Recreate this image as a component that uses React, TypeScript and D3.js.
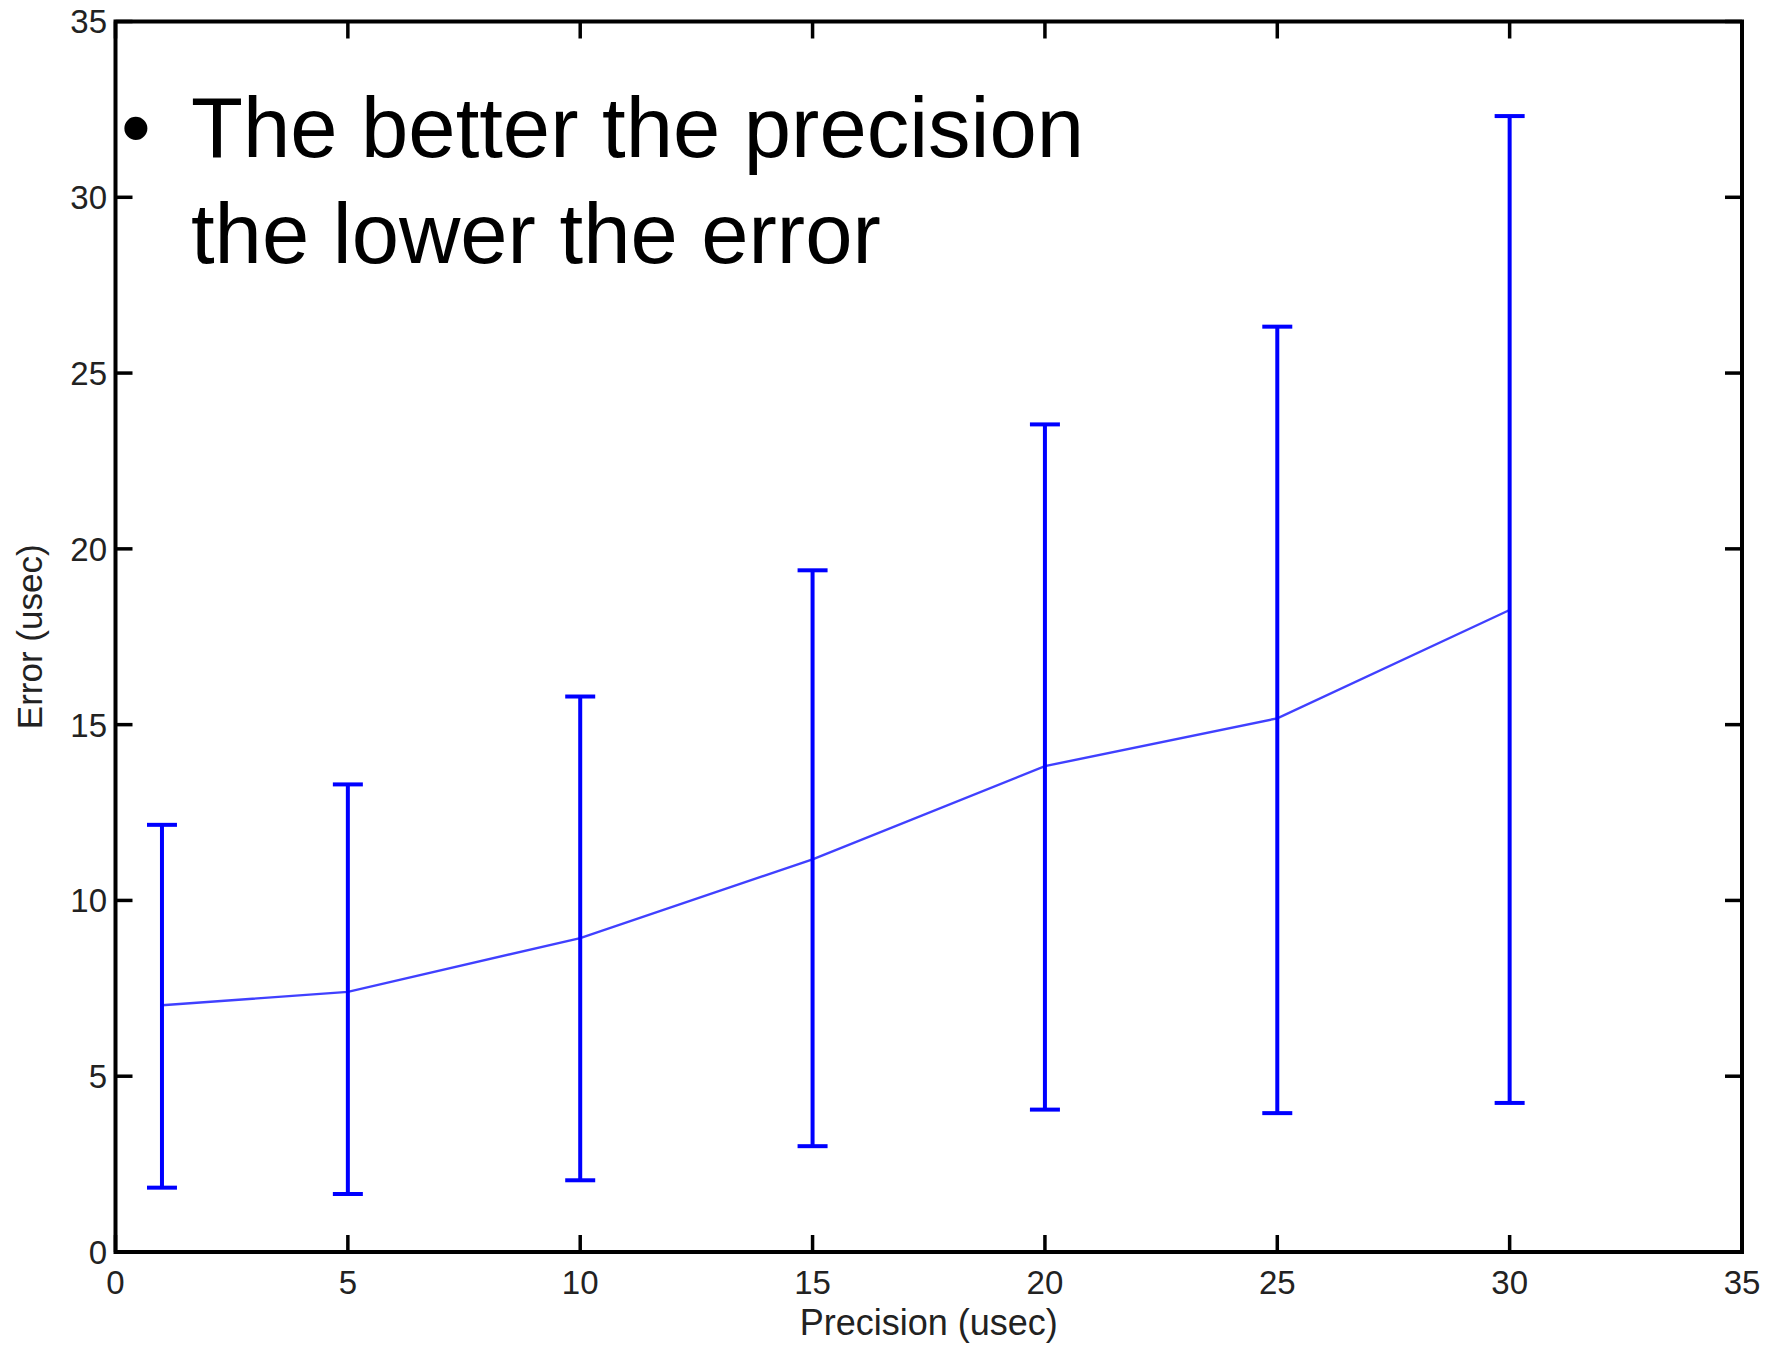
import React from 'react';
import * as d3 from 'd3';

// precision setting (usec) and measured error (usec)
const precision = [1, 5, 10, 15, 20, 25, 30];
const meanError = [7.02, 7.4, 8.93, 11.17, 13.82, 15.18, 18.26];
const lowError = [1.83, 1.65, 2.04, 3.01, 4.05, 3.95, 4.24];
const highError = [12.15, 13.3, 15.8, 19.39, 23.54, 26.32, 32.31];

const xTicks = [0, 5, 10, 15, 20, 25, 30, 35];
const yTicks = [0, 5, 10, 15, 20, 25, 30, 35];

const bulletLines = ['The better the precision', 'the lower the error'];

const W = 1784;
const H = 1345;
const left = 115.5;
const right = 1742;
const top = 21.5;
const bottom = 1252;

const App = () => {
  const x = d3.scaleLinear().domain([0, 35]).range([left, right]);
  const y = d3.scaleLinear().domain([0, 35]).range([bottom, top]);

  const pts: [number, number][] = precision.map((p, i) => [x(p), y(meanError[i])]);
  const line = d3.line().curve(d3.curveLinear)(pts) || '';

  const tickLen = 17;
  const capHalf = 15;
  const font = '"Liberation Sans", Arial, Helvetica, sans-serif';

  return (
    <svg width={W} height={H} style={{ position: 'absolute', left: 0, top: 0, background: '#fff' }}>
      {/* ticks on all four sides, pointing inward */}
      {xTicks.map(t => (
        <g key={'xt' + t}>
          <line x1={x(t)} x2={x(t)} y1={bottom} y2={bottom - tickLen} stroke="#000" strokeWidth={3.5} />
          <line x1={x(t)} x2={x(t)} y1={top} y2={top + tickLen} stroke="#000" strokeWidth={3.5} />
          <text x={x(t)} y={1294} textAnchor="middle" fontFamily={font} fontSize={33} fill="#222">{t}</text>
        </g>
      ))}
      {yTicks.map(t => (
        <g key={'yt' + t}>
          <line x1={left} x2={left + tickLen} y1={y(t)} y2={y(t)} stroke="#000" strokeWidth={3.5} />
          <line x1={right} x2={right - tickLen} y1={y(t)} y2={y(t)} stroke="#000" strokeWidth={3.5} />
          <text x={107} y={y(t)} dy="0.36em" textAnchor="end" fontFamily={font} fontSize={33} fill="#222">{t}</text>
        </g>
      ))}

      {/* frame */}
      <rect x={left} y={top} width={right - left} height={bottom - top} fill="none" stroke="#000" strokeWidth={4} />

      {/* mean line */}
      <path d={line} fill="none" stroke="#0000ff" strokeWidth={2.4} strokeOpacity={0.75} />

      {/* error bars */}
      {precision.map((p, i) => (
        <g key={'eb' + p} stroke="#0000ff" strokeWidth={4}>
          <line x1={x(p)} x2={x(p)} y1={y(lowError[i])} y2={y(highError[i])} />
          <line x1={x(p) - capHalf} x2={x(p) + capHalf} y1={y(highError[i])} y2={y(highError[i])} />
          <line x1={x(p) - capHalf} x2={x(p) + capHalf} y1={y(lowError[i])} y2={y(lowError[i])} />
        </g>
      ))}

      {/* axis titles */}
      <text x={(left + right) / 2} y={1335} textAnchor="middle" fontFamily={font} fontSize={36} fill="#222">Precision (usec)</text>
      <text transform={`translate(42,${(top + bottom) / 2}) rotate(-90)`} textAnchor="middle" fontFamily={font} fontSize={35} fill="#222">Error (usec)</text>

      {/* bullet annotation */}
      <text x={121} y={157} fontFamily={font} fontSize={85} fill="#000">•</text>
      {bulletLines.map((s, i) => (
        <text key={s} x={191} y={157 + i * 106} fontFamily={font} fontSize={85} fill="#000">{s}</text>
      ))}
    </svg>
  );
};

export default App;
